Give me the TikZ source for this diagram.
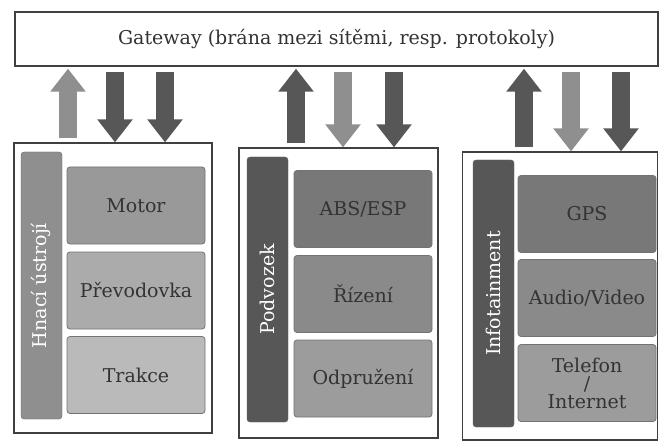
\documentclass[tikz,border=0pt]{standalone}
\usepackage{fontspec}
\setmainfont{DejaVu Serif}
\usepackage{tikz}
\usetikzlibrary{arrows.meta}
\usepackage{xcolor}
\definecolor{frame}{gray}{0.25}
\definecolor{dark}{gray}{0.34}
\definecolor{light}{gray}{0.56}
\definecolor{txt}{gray}{0.2}

\begin{document}
\begin{tikzpicture}[x=1pt, y=-1pt,
  gate/.style={draw=frame, line width=1.3pt, fill=white, minimum width=643pt, minimum height=54pt, inner sep=0pt, font=\fontsize{19}{22}\selectfont, text=txt},
  panel/.style={draw=frame, line width=1.2pt, fill=white, inner sep=0pt},
  bar/.style={draw=black!60, fill=#1, rounded corners=3pt, minimum height=41pt, inner sep=0pt, text=white, rotate=90, font=\fontsize{19}{22}\selectfont},
  sub/.style={draw=black!55, line width=0.8pt, fill=#1, rounded corners=3pt, minimum width=138pt, minimum height=77pt, inner sep=0pt, align=center, text=txt, font=\fontsize{19}{22}\selectfont},
  uparr/.style={-{Triangle[length=23pt, width=34pt]}, line width=18pt, draw=#1, shorten <=4pt, shorten >=2pt},
  dnarr/.style={-{Triangle[length=23pt, width=34pt]}, line width=18pt, draw=#1, shorten <=5pt}
]
\useasboundingbox (0,0) rectangle (659,441);
\node[gate] (gw) at (336.5,39) {Gateway (brána mezi sítěmi, resp. protokoly)};
% panels
\node[panel, minimum width=198pt, minimum height=290pt] (p1) at (113,288) {};
\node[panel, minimum width=199pt, minimum height=290pt] (p2) at (338.5,293) {};
\node[panel, minimum width=195pt, minimum height=288pt] (p3) at (560,296) {};
\node[bar=light, minimum width=267pt] (b1) at (41.5,285.5) {Hnací ústrojí};
\node[bar=dark, minimum width=265pt] (b2) at (267.5,289.5) {Podvozek};
\node[bar=dark, minimum width=267pt] (b3) at (493.5,293.5) {Infotainment};
\node[sub=black!40] (s11) at (136,205.5) {Motor};
\node[sub=black!33] (s12) at (136,290.5) {Převodovka};
\node[sub=black!27] (s13) at (136,375) {Trakce};
\node[sub=black!53] (s21) at (363,209) {ABS/ESP};
\node[sub=black!46] (s22) at (363,294) {Řízení};
\node[sub=black!39] (s23) at (363,378.5) {Odpružení};
\node[sub=black!53] (s31) at (587,214) {GPS};
\node[sub=black!46] (s32) at (587,298) {Audio/Video};
\node[sub=black!39] (s33) at (587,383) {Telefon\\[-4pt]/\\[-4pt]Internet};
% arrows
\draw[uparr=light] (68,0 |- p1.north) -- (68,0 |- gw.south);
\foreach \x in {115,165} \draw[dnarr=dark] (\x,0 |- gw.south) -- (\x,0 |- p1.north);
\draw[uparr=dark] (296,0 |- p2.north) -- (296,0 |- gw.south);
\draw[dnarr=light] (343,0 |- gw.south) -- (343,0 |- p2.north);
\draw[dnarr=dark] (394,0 |- gw.south) -- (394,0 |- p2.north);
\draw[uparr=dark] (524,0 |- p3.north) -- (524,0 |- gw.south);
\draw[dnarr=light] (571,0 |- gw.south) -- (571,0 |- p3.north);
\draw[dnarr=dark] (621,0 |- gw.south) -- (621,0 |- p3.north);
\end{tikzpicture}
\end{document}
